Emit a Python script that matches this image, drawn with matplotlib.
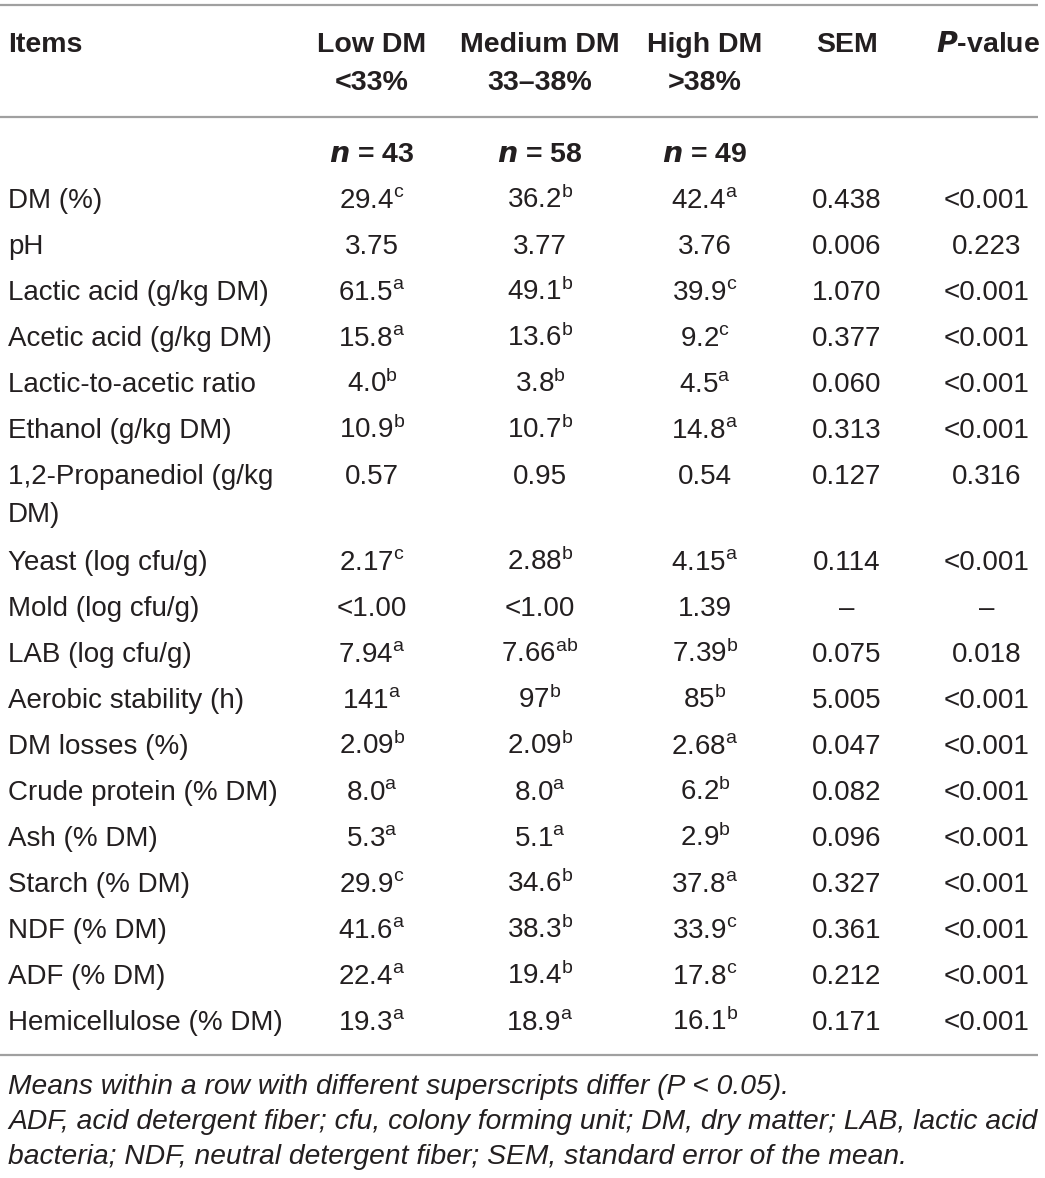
import matplotlib
matplotlib.use("Agg")
import matplotlib.pyplot as plt

plt.rcParams['font.family'] = ['Liberation Sans', 'DejaVu Sans']
plt.rcParams['mathtext.fontset'] = 'custom'
plt.rcParams['mathtext.rm'] = 'Liberation Sans'
plt.rcParams['mathtext.it'] = 'Liberation Sans:italic'
plt.rcParams['mathtext.bf'] = 'Liberation Sans:bold'

col_headers = [("Low DM", "<33%"), ("Medium DM", "33–38%"), ("High DM", ">38%"), ("SEM", ""), ("P-value", "")]
n_counts = [43, 58, 49]
items = ["DM (%)", "pH", "Lactic acid (g/kg DM)", "Acetic acid (g/kg DM)", "Lactic-to-acetic ratio",
         "Ethanol (g/kg DM)", "1,2-Propanediol (g/kg\nDM)", "Yeast (log cfu/g)", "Mold (log cfu/g)",
         "LAB (log cfu/g)", "Aerobic stability (h)", "DM losses (%)", "Crude protein (% DM)",
         "Ash (% DM)", "Starch (% DM)", "NDF (% DM)", "ADF (% DM)", "Hemicellulose (% DM)"]
low = ["29.4", "3.75", "61.5", "15.8", "4.0", "10.9", "0.57", "2.17", "<1.00", "7.94", "141", "2.09",
       "8.0", "5.3", "29.9", "41.6", "22.4", "19.3"]
low_sup = ["c", "", "a", "a", "b", "b", "", "c", "", "a", "a", "b", "a", "a", "c", "a", "a", "a"]
med = ["36.2", "3.77", "49.1", "13.6", "3.8", "10.7", "0.95", "2.88", "<1.00", "7.66", "97", "2.09",
       "8.0", "5.1", "34.6", "38.3", "19.4", "18.9"]
med_sup = ["b", "", "b", "b", "b", "b", "", "b", "", "ab", "b", "b", "a", "a", "b", "b", "b", "a"]
high = ["42.4", "3.76", "39.9", "9.2", "4.5", "14.8", "0.54", "4.15", "1.39", "7.39", "85", "2.68",
        "6.2", "2.9", "37.8", "33.9", "17.8", "16.1"]
high_sup = ["a", "", "c", "c", "a", "a", "", "a", "", "b", "b", "a", "b", "b", "a", "c", "c", "b"]
sem = ["0.438", "0.006", "1.070", "0.377", "0.060", "0.313", "0.127", "0.114", "–", "0.075", "5.005",
       "0.047", "0.082", "0.096", "0.327", "0.361", "0.212", "0.171"]
pval = ["<0.001", "0.223", "<0.001", "<0.001", "<0.001", "<0.001", "0.316", "<0.001", "–", "0.018",
        "<0.001", "<0.001", "<0.001", "<0.001", "<0.001", "<0.001", "<0.001", "<0.001"]
footnotes = ["Means within a row with different superscripts differ (P < 0.05).",
             "ADF, acid detergent fiber; cfu, colony forming unit; DM, dry matter; LAB, lactic acid",
             "bacteria; NDF, neutral detergent fiber; SEM, standard error of the mean."]

W, H = 1045, 1178
fig = plt.figure(figsize=(W / 100, H / 100), dpi=100)
ax = fig.add_axes([0, 0, 1, 1])
ax.set_xlim(0, W)
ax.set_ylim(H, 0)
ax.axis('off')

txt = '#231f20'
fs = 20
hfs = 20.5
ffs = 20.3
line_c = '#a0a0a0'
base_off = 9.5  # baseline offset from visual centre (px)

col_x = [372, 540, 705, 847, 987]

def put(x, y, s, size, ha='center', **kw):
    ax.text(x, y + base_off * size / 20, s, fontsize=size, ha=ha, va='baseline', color=txt, **kw)

# rules
for yy in (5, 117, 1055):
    ax.plot([0, 1038], [yy, yy], color=line_c, lw=1.6, solid_capstyle='butt')

# header
put(8, 42, "Items", hfs, ha='left', fontweight='bold')
for i, (h1, h2) in enumerate(col_headers):
    if h1 == "P-value":
        put(col_x[i] + 1, 42, r"$\mathbfit{P}$" + "-value", hfs, fontweight='bold')
    else:
        put(col_x[i], 42, h1, hfs, fontweight='bold')
    if h2:
        put(col_x[i], 80, h2, hfs, fontweight='bold')

for i, n in enumerate(n_counts):
    put(col_x[i], 152, r"$\mathbfit{n}$" + f" = {n}", hfs, fontweight='bold')

# rows
row_y = [198, 244, 290, 336, 382, 428, 474, 560, 606, 652, 698, 744, 790, 836, 882, 928, 974, 1020]
def val(s, sup):
    if sup:
        return s + r"$^{\mathrm{" + sup + r"}}$"
    return s

for r, y in enumerate(row_y):
    lines = items[r].split("\n")
    for k, ln in enumerate(lines):
        put(8, y + k * 38, ln, fs, ha='left')
    for i, (v, s) in enumerate([(low[r], low_sup[r]), (med[r], med_sup[r]), (high[r], high_sup[r])]):
        put(col_x[i], y, val(v, s), fs)
    put(col_x[3], y, sem[r], fs)
    put(col_x[4], y, pval[r], fs)

for k, f in enumerate(footnotes):
    put(8, 1084 + k * 35, f, ffs, ha='left', style='italic')

fig.savefig("out.png", dpi=100)
